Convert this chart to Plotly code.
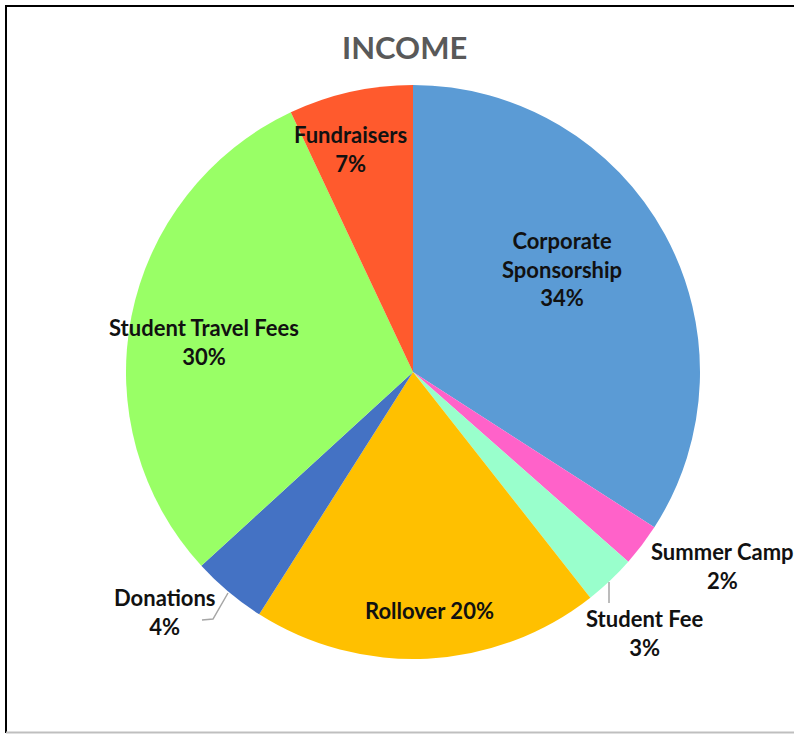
import plotly.graph_objects as go

# ---- data ----
labels = ["Corporate Sponsorship", "Summer Camp", "Student Fee", "Rollover",
          "Donations", "Student Travel Fees", "Fundraisers"]
values = [34.1, 2.4, 2.9, 19.6, 4.2, 29.8, 7.0]
colors = ["#5B9BD5", "#FF62C9", "#99FFCC", "#FFC000", "#4472C4", "#99FF66", "#FF5A2D"]
label_templates = ["Corporate<br>Sponsorship<br>{p}", "Summer Camp<br>{p}", "Student Fee<br>{p}",
                   "Rollover {p}", "Donations<br>{p}", "Student Travel Fees<br>{p}", "Fundraisers<br>{p}"]
title_text = "INCOME"

W, H = 794, 734
# label block centres in pixels (manually placed data labels)
label_pos = [(562, 269), (722, 566), (644, 633), (429, 610), (165, 612), (204, 342), (350, 149)]

def px(x):
    return x / W

def py(y):
    return 1 - y / H

total = sum(values)
pcts = [f"{round(v / total * 100)}%" for v in values]

fig = go.Figure()
fig.add_trace(go.Pie(
    labels=labels, values=values, sort=False, direction="clockwise", rotation=0,
    marker=dict(colors=colors, line=dict(width=0)),
    textinfo="none", hoverinfo="label+percent", showlegend=False,
    domain=dict(x=[px(126), px(700)], y=[py(659), py(85)]),
))

annotations = [dict(text=f"<b>{title_text}</b>", x=px(404), y=py(47), xref="paper", yref="paper",
                    showarrow=False, xanchor="center", yanchor="middle",
                    font=dict(family="Lato", size=31, color="#595959"))]
for tpl, p, (lx, ly) in zip(label_templates, pcts, label_pos):
    annotations.append(dict(text="<b>" + tpl.format(p=p) + "</b>", x=px(lx), y=py(ly),
                            xref="paper", yref="paper", showarrow=False,
                            xanchor="center", yanchor="middle", align="center",
                            font=dict(family="Lato", size=22, color="#111111")))

shapes = [
    # chart border (top / left black, bottom grey)
    dict(type="line", xref="paper", yref="paper", x0=px(5), x1=1, y0=py(6), y1=py(6),
         line=dict(color="#000000", width=2)),
    dict(type="line", xref="paper", yref="paper", x0=px(6), x1=px(6), y0=py(5), y1=py(733),
         line=dict(color="#000000", width=2)),
    dict(type="line", xref="paper", yref="paper", x0=px(6), x1=1, y0=py(732.5), y1=py(732.5),
         line=dict(color="#BFBFBF", width=2)),
    # leader lines
    dict(type="line", xref="paper", yref="paper", x0=px(609), x1=px(609), y0=py(582), y1=py(603),
         line=dict(color="#A6A6A6", width=1.5)),
    dict(type="path", xref="paper", yref="paper",
         path=f"M {px(228)} {py(593)} L {px(213)} {py(619)} L {px(202)} {py(620)}",
         line=dict(color="#A6A6A6", width=1.5)),
]

fig.update_layout(width=W, height=H, margin=dict(l=0, r=0, t=0, b=0),
                  paper_bgcolor="white", plot_bgcolor="white",
                  annotations=annotations, shapes=shapes)
fig.write_html("out.html")
